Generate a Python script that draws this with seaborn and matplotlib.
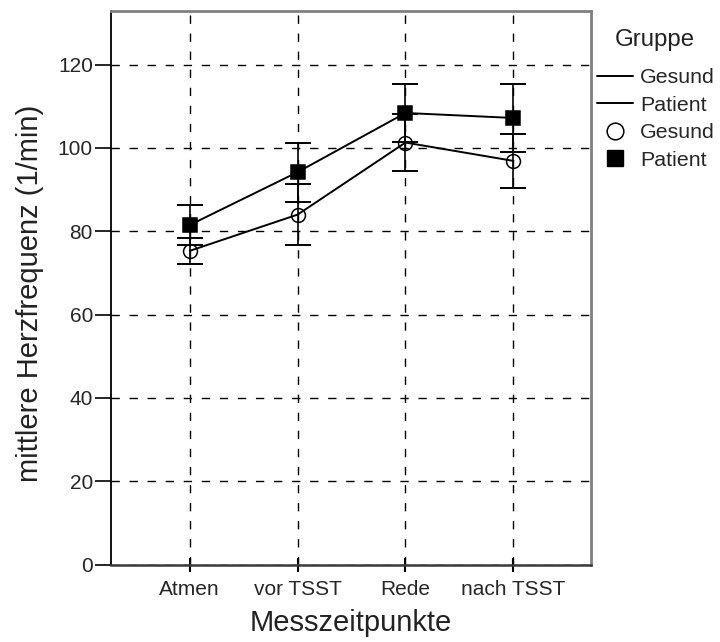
import pandas as pd
import matplotlib
matplotlib.use("Agg")
import matplotlib.pyplot as plt
import seaborn as sns
from matplotlib.lines import Line2D

MESSZEITPUNKTE = ["Atmen", "vor TSST", "Rede", "nach TSST"]
GESUND_MEAN = [75.3, 84.0, 101.3, 96.9]
GESUND_CI = [3.1, 7.3, 6.9, 6.4]
PATIENT_MEAN = [81.5, 94.2, 108.4, 107.2]
PATIENT_CI = [4.8, 7.1, 7.0, 8.1]
GRUPPEN = ["Gesund", "Patient"]
Y_TICKS = [0, 20, 40, 60, 80, 100, 120]

sns.set_theme(style="white")
plt.rcParams["font.family"] = ["Liberation Sans", "DejaVu Sans"]

df = pd.DataFrame({
    "Messzeitpunkt": MESSZEITPUNKTE * 2,
    "Gruppe": [GRUPPEN[0]] * 4 + [GRUPPEN[1]] * 4,
    "Herzfrequenz": GESUND_MEAN + PATIENT_MEAN,
    "CI": GESUND_CI + PATIENT_CI,
})
df["pos"] = df["Messzeitpunkt"].map({m: i for i, m in enumerate(MESSZEITPUNKTE)})

marker_styles = {
    "Gesund": dict(marker="o", markersize=10, markerfacecolor="none"),
    "Patient": dict(marker="s", markersize=9.5, markerfacecolor="black"),
}

fig = plt.figure(figsize=(7.2, 6.42), dpi=100)
ax = fig.add_axes([111 / 720, 1 - 564.5 / 642, 480 / 720, 554 / 642])

for gruppe in GRUPPEN:
    sub = df[df["Gruppe"] == gruppe]
    ax.errorbar(sub["pos"], sub["Herzfrequenz"], yerr=sub["CI"], fmt="none",
                ecolor="black", elinewidth=1.2, capsize=9.5, capthick=1.4, zorder=3)
    sns.lineplot(data=sub, x="pos", y="Herzfrequenz", color="black", lw=1.4,
                 markeredgecolor="black", markeredgewidth=1.1, errorbar=None,
                 ax=ax, zorder=4, **marker_styles[gruppe])

ax.set_xlim(-0.73, 3.72)
ax.set_ylim(0, 133)
ax.set_xticks(range(len(MESSZEITPUNKTE)))
ax.set_xticklabels(MESSZEITPUNKTE)
ax.set_yticks(Y_TICKS)

ax.set_axisbelow(True)
ax.grid(True, color="black", ls=(0, (6, 7)), lw=1.0)

ax.spines["left"].set(color="black", lw=1.3)
ax.spines["bottom"].set(color="#3a3a3a", lw=1.8)
ax.spines["top"].set(color="#808080", lw=2)
ax.spines["right"].set(color="#808080", lw=2)

ax.tick_params(axis="y", direction="out", length=11.5, width=1.2, color="black",
               labelsize=15, pad=1.5, left=True)
ax.tick_params(axis="x", direction="inout", length=10, width=1.5, color="black",
               labelsize=15, pad=6, bottom=True)

ax.set_xlabel("Messzeitpunkte", fontsize=21, color="#222222")
ax.set_ylabel("mittlere Herzfrequenz (1/min)", fontsize=21, color="#222222")
ax.yaxis.set_label_coords(-0.14, 0.49)
ax.xaxis.set_label_coords(0.5, -0.08)

# legend: title as separate text so the gap to the entries matches
fig.text(655 / 720, 1 - 40 / 642, "Gruppe", fontsize=17.3, color="#222222",
         ha="center", va="center")
handles = [
    Line2D([], [], color="black", lw=1.4),
    Line2D([], [], color="black", lw=1.4),
    Line2D([], [], color="black", ls="none", marker="o", markersize=12,
           markerfacecolor="none", markeredgewidth=1.1),
    Line2D([], [], color="black", ls="none", marker="s", markersize=11,
           markerfacecolor="black"),
]
ax.legend(handles, ["Gesund", "Patient", "Gesund", "Patient"],
          loc="upper left", bbox_to_anchor=(597 / 720, 1 - 68 / 642),
          bbox_transform=fig.transFigure, frameon=False, fontsize=15.4,
          handlelength=1.68, handletextpad=0.33, labelspacing=0.4,
          borderpad=0, borderaxespad=0)

fig.savefig("out.png", dpi=100)
